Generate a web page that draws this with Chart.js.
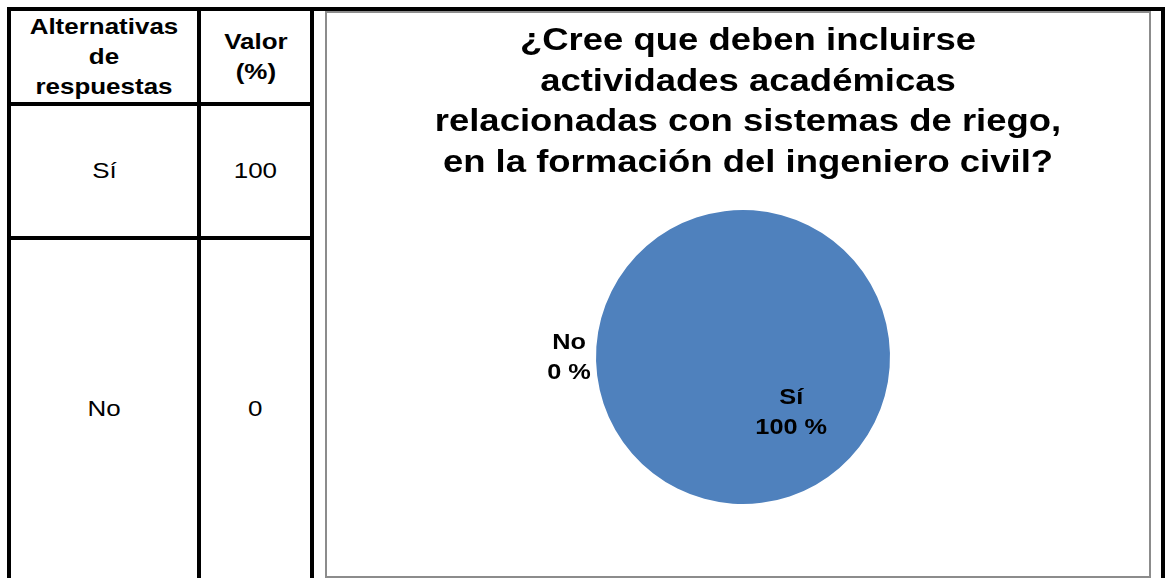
<!DOCTYPE html>
<html>
<head>
<meta charset="utf-8">
<script src="https://cdn.jsdelivr.net/npm/chart.js@4"></script>
<style>
  html, body { margin: 0; padding: 0; background: #fff; }
  body { width: 1165px; height: 578px; position: relative; overflow: hidden; font-family: "Liberation Sans", Arial, sans-serif; }
  .line { position: absolute; background: #000; }
  .cell { position: absolute; display: flex; align-items: center; justify-content: center; text-align: center; font-size: 22px; color: #000; }
  .cell span { display: inline-block; transform: scaleX(1.18); }
  .head { font-weight: bold; line-height: 30px; }
  #box { position: absolute; left: 325px; top: 11px; width: 826px; height: 567px; border: 2px solid #8c8c8c; box-sizing: border-box; }
</style>
</head>
<body>
<div id="table"></div>
<div id="box"><canvas id="chartPie"></canvas></div>
<script>
// Datos de la encuesta
const categories = ["Sí", "No"];
const values = [100, 0];
const tableHeaders = ["Alternativas<br>de<br>respuestas", "Valor<br>(%)"];
const chartTitle = [
  "¿Cree que deben incluirse",
  "actividades académicas",
  "relacionadas con sistemas de riego,",
  "en la formación del ingeniero civil?"
];

// Se dibujan las líneas del marco de la tabla
const table = document.getElementById("table");
const lines = [
  [7, 7, 1158, 4], [7, 7, 4, 571], [197, 7, 4, 571], [310, 7, 4, 571],
  [1161, 7, 4, 571], [7, 102, 307, 4], [7, 236, 307, 4]
];
lines.forEach(([x, y, w, h]) => {
  table.innerHTML += `<div class="line" style="left:${x}px;top:${y}px;width:${w}px;height:${h}px"></div>`;
});

// Celdas de texto de la tabla
const cols = [[11, 186], [201, 109]];
const rows = [[11, 91], [106, 130], [240, 338]];
tableHeaders.forEach((txt, i) => {
  table.innerHTML += `<div class="cell head" style="left:${cols[i][0]}px;top:${rows[0][0]}px;width:${cols[i][1]}px;height:${rows[0][1]}px"><span>${txt}</span></div>`;
});
categories.forEach((cat, r) => {
  const row = rows[r + 1];
  table.innerHTML += `<div class="cell" style="left:${cols[0][0]}px;top:${row[0]}px;width:${cols[0][1]}px;height:${row[1]}px"><span>${cat}</span></div>`;
  table.innerHTML += `<div class="cell" style="left:${cols[1][0]}px;top:${row[0]}px;width:${cols[1][1]}px;height:${row[1]}px"><span>${values[r]}</span></div>`;
});

// Texto ensanchado horizontalmente, como en el original
function wideText(ctx, text, x, y, sx) {
  ctx.save();
  ctx.translate(x, y);
  ctx.scale(sx, 1);
  ctx.fillText(text, 0, 0);
  ctx.restore();
}

// Plugin para el título del gráfico
const wideTitle = {
  id: "wideTitle",
  afterDraw(chart) {
    const ctx = chart.ctx;
    ctx.save();
    ctx.font = "bold 32px 'Liberation Sans', Arial, sans-serif";
    ctx.fillStyle = "#000";
    ctx.textAlign = "center";
    ctx.textBaseline = "middle";
    chartTitle.forEach((txt, i) => {
      wideText(ctx, txt, chart.width / 2 + 10, 28 + i * 40.7, 1.14);
    });
    ctx.restore();
  }
};

// Plugin para etiquetas de datos
const pieLabels = {
  id: "pieLabels",
  afterDatasetsDraw(chart) {
    const ctx = chart.ctx;
    const meta = chart.getDatasetMeta(0);
    ctx.save();
    ctx.font = "bold 22px 'Liberation Sans', Arial, sans-serif";
    ctx.fillStyle = "#000";
    ctx.textAlign = "center";
    ctx.textBaseline = "middle";
    meta.data.forEach((arc, i) => {
      let x, y;
      if (values[i] === 0) {
        x = arc.x - arc.outerRadius - 27;
        y = arc.y + 1;
      } else {
        const pos = arc.tooltipPosition();
        x = pos.x;
        y = pos.y;
      }
      wideText(ctx, categories[i], x, y - 15, 1.15);
      wideText(ctx, values[i] + " %", x, y + 15, 1.15);
    });
    ctx.restore();
  }
};

const canvas = document.getElementById("chartPie");
canvas.width = 822;
canvas.height = 563;

new Chart(canvas, {
  type: "pie",
  data: {
    labels: categories,
    datasets: [{
      data: values,
      backgroundColor: ["#4F81BD", "#C0504D"],
      borderWidth: 0,
      hoverOffset: 0
    }]
  },
  options: {
    responsive: false,
    animation: false,
    rotation: -41,
    layout: { padding: { left: 10, top: 197, bottom: 72 } },
    plugins: {
      legend: { display: false },
      tooltip: { enabled: false },
      title: { display: false }
    }
  },
  plugins: [pieLabels, wideTitle]
});
</script>
</body>
</html>
